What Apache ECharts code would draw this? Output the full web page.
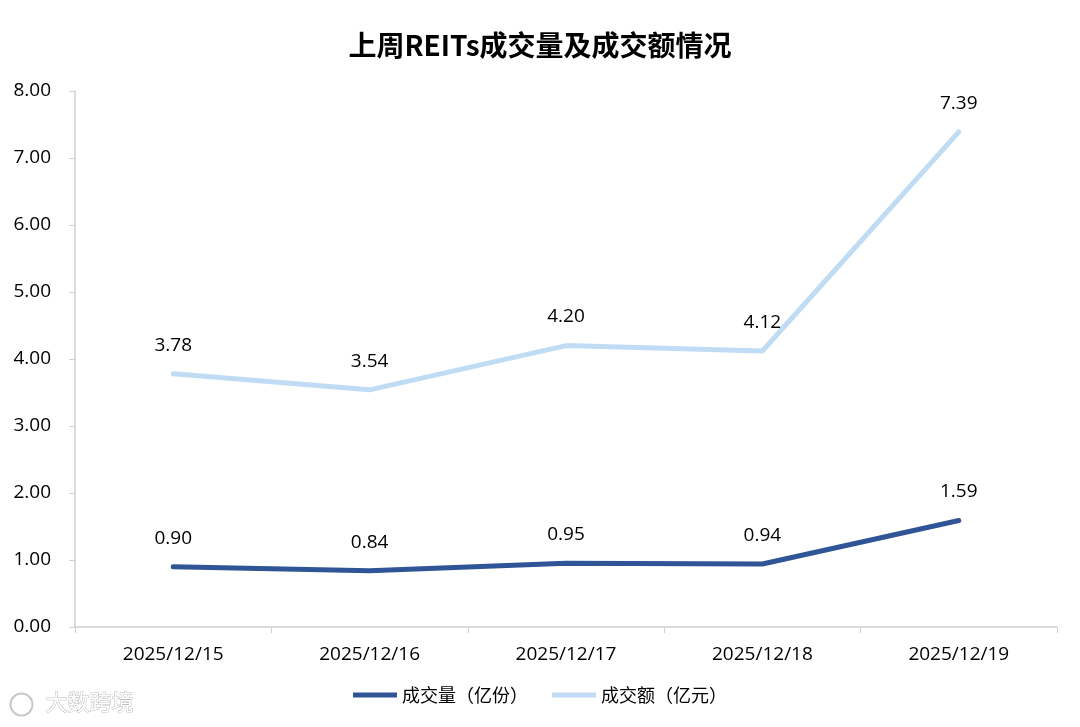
<!DOCTYPE html>
<html><head><meta charset="utf-8">
<script src="https://cdn.jsdelivr.net/npm/echarts@6/dist/echarts.min.js"></script>
<style>html,body{margin:0;padding:0;background:#fff}#c{width:1080px;height:727px}</style>
</head><body><div id="c"></div>
<script>
const categories = ['2025/12/15','2025/12/16','2025/12/17','2025/12/18','2025/12/19'];
const volume = [0.90, 0.84, 0.95, 0.94, 1.59];
const amount = [3.78, 3.54, 4.20, 4.12, 7.39];
const seriesNames = ['成交量（亿份）','成交额（亿元）'];
const titleText = '上周REITs成交量及成交额情况';
const watermark = '大数跨境';

const chart = echarts.init(document.getElementById('c'));
const cjk = '"Microsoft YaHei","Noto Sans CJK SC",sans-serif';
const num = '"Open Sans","Noto Sans CJK SC",sans-serif';
const lbl = {show:true, position:'top', distance:19, fontSize:19, color:'#000', fontFamily:num, formatter:p=>p.value.toFixed(2)};
chart.setOption({
  backgroundColor:'#fff',
  animation:false,
  title:{text:titleText, left:'center', top:26, textStyle:{fontSize:28, fontWeight:'bold', color:'#000', fontFamily:cjk}},
  legend:{bottom:18, left:'center', itemWidth:44, itemHeight:5, itemGap:24, icon:'rect',
    textStyle:{fontSize:18, color:'#000', fontFamily:cjk}, data:seriesNames},
  grid:{left:75, right:23, top:91, bottom:100, containLabel:false},
  xAxis:{type:'category', data:categories, boundaryGap:true,
    axisLine:{lineStyle:{color:'#d0d0d0', width:1.5}},
    axisTick:{show:true, length:6, lineStyle:{color:'#d0d0d0'}},
    axisLabel:{fontSize:19, color:'#000', margin:18, fontFamily:num}},
  yAxis:{type:'value', min:0, max:8, interval:1,
    axisLine:{show:true, lineStyle:{color:'#d0d0d0', width:1.5}},
    axisTick:{show:true, length:6, lineStyle:{color:'#d0d0d0'}},
    splitLine:{show:false},
    axisLabel:{fontSize:19, color:'#000', margin:24, fontFamily:num, formatter:v=>v.toFixed(2)}},
  series:[
    {name:seriesNames[0], type:'line', data:volume, symbol:'circle', symbolSize:0.1, showSymbol:true,
     lineStyle:{width:5, color:'#2F5597', cap:'round'}, itemStyle:{color:'#2F5597'}, label:lbl},
    {name:seriesNames[1], type:'line', data:amount, symbol:'circle', symbolSize:0.1, showSymbol:true,
     lineStyle:{width:5, color:'#C0DCF5', cap:'round'}, itemStyle:{color:'#C0DCF5'}, label:lbl}
  ],
  graphic:[
    {type:'circle', left:8, top:691, shape:{r:11}, style:{fill:'none', stroke:'#c8c8c8', lineWidth:2}},
    {type:'text', left:45, top:690, style:{text:watermark, fontSize:22, fill:'#fff', stroke:'#bdbdbd', lineWidth:1, fontFamily:cjk}}
  ]
});
</script></body></html>
